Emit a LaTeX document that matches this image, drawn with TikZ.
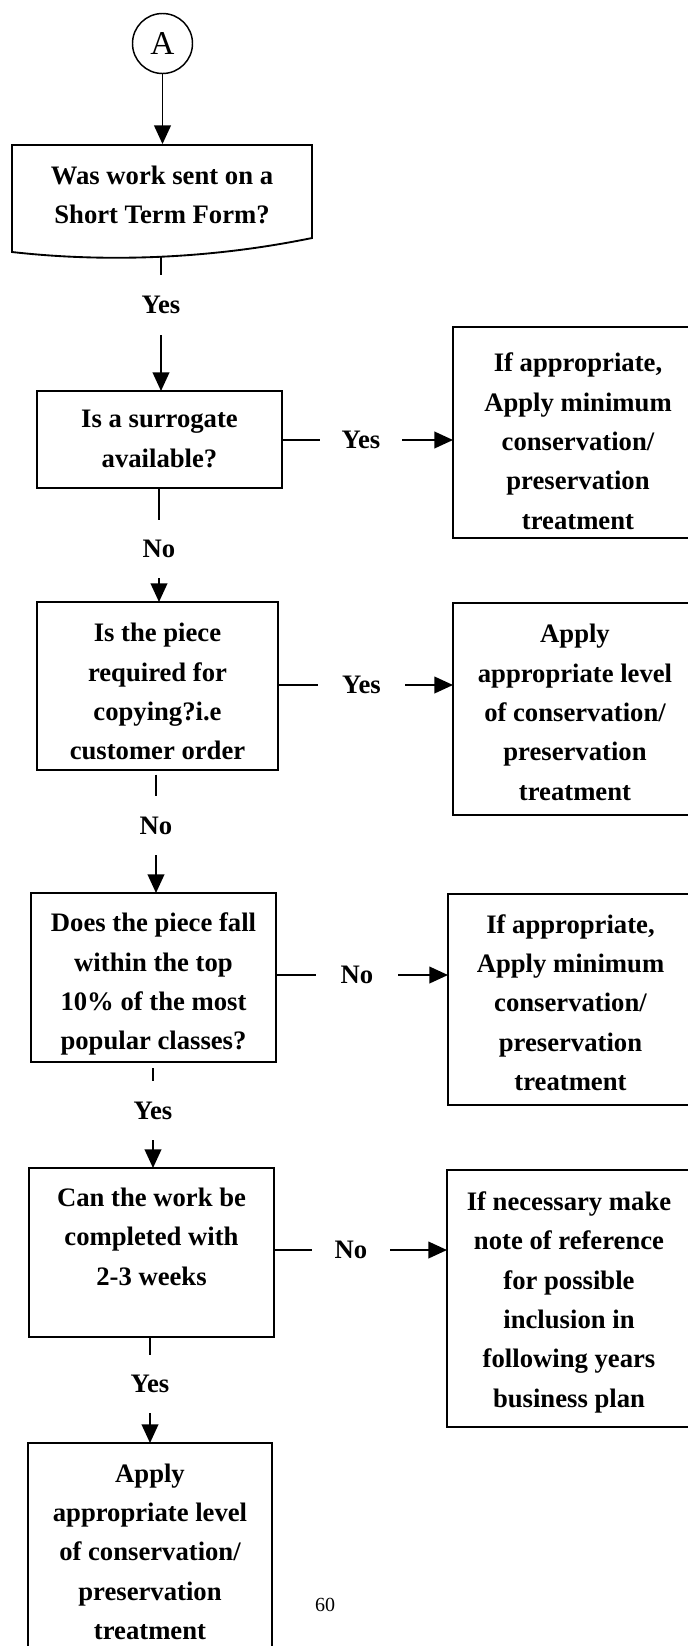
\documentclass[tikz,border=0pt]{standalone}
\usepackage{fontspec}
\setmainfont{Liberation Serif}
\usetikzlibrary{arrows.meta}
\begin{document}
\begin{tikzpicture}[x=0.75pt,y=-0.75pt,line width=1.4pt,
  box/.style={draw,rectangle,inner sep=0pt,outer sep=0pt},
  txt/.style={font=\bfseries\fontsize{20}{29.5}\selectfont,align=center,inner sep=0pt},
  lab/.style={font=\bfseries\fontsize{20}{24}\selectfont,inner sep=0pt,outer sep=0pt},
  arr/.style={-{Triangle[length=14pt,width=12.5pt]}}]
\useasboundingbox (0,0) rectangle (688,1646);
\clip (0,0) rectangle (688,1646);

% start connector
\node[draw,circle,minimum size=45pt,inner sep=0pt,line width=1.1pt,font=\fontsize{25}{30}\selectfont] (a) at (162.5,43.5) {A};

% document-shaped first question
\node[inner sep=0pt,minimum width=225pt,minimum height=82.5pt,
  label={[txt,yshift=3pt]center:{\strut Was work sent on a\\\strut Short Term Form?}}] (q1) at (162,200) {};
\draw (12,145) -- (312,145) -- (312,238) .. controls (205,260) and (100,262) .. (12,252) -- cycle;

% left column
\node[box,minimum width=183.75pt,minimum height=72.75pt,
  label={[txt]center:{\strut Is a surrogate\\\strut available?}}] (q2) at (159.5,439.5) {};
\node[box,minimum width=180.75pt,minimum height=126pt,
  label={[txt,yshift=-5.25pt]center:{\strut Is the piece\\\strut required for\\\strut copying?i.e\\\strut customer order}}] (q3) at (157.5,686) {};
\node[box,minimum width=183.75pt,minimum height=126.75pt,
  label={[txt,yshift=-4.1pt]center:{\strut Does the piece fall\\\strut within the top\\\strut 10\% of the most\\\strut popular classes?}}] (q4) at (153.5,977.5) {};
\node[box,minimum width=183.75pt,minimum height=126.75pt,
  label={[txt,yshift=10.9pt]center:{\strut Can the work be\\\strut completed with\\\strut 2-3 weeks}}] (q5) at (151.5,1252.5) {};
\node[box,minimum width=183pt,minimum height=165pt,
  label={[txt]center:{\strut Apply\\\strut appropriate level\\\strut of conservation/\\\strut preservation\\\strut treatment}}] (q6) at (150,1553) {};

% right column
\node[box,minimum width=187.5pt,minimum height=158.25pt,
  label={[txt,yshift=-7.5pt]center:{\strut If appropriate,\\\strut Apply minimum\\\strut conservation/\\\strut preservation\\\strut treatment}}] (r1) at (578,432.5) {};
\node[box,minimum width=183pt,minimum height=159pt,
  label={[txt,yshift=-3.4pt]center:{\strut Apply\\\strut appropriate level\\\strut of conservation/\\\strut preservation\\\strut treatment}}] (r2) at (575,709) {};
\node[box,minimum width=183.75pt,minimum height=158.25pt,
  label={[txt,yshift=-3.4pt]center:{\strut If appropriate,\\\strut Apply minimum\\\strut conservation/\\\strut preservation\\\strut treatment}}] (r3) at (570.5,999.5) {};
\node[box,minimum width=183pt,minimum height=192.75pt,
  label={[txt,yshift=-1.9pt]center:{\strut If necessary make\\\strut note of reference\\\strut for possible\\\strut inclusion in\\\strut following years\\\strut business plan}}] (r4) at (569,1298.5) {};

% vertical decision labels
\node[lab,minimum height=45pt] (L1) at (161,305) {Yes};
\node[lab,minimum height=43.5pt] (L2) at (159,549) {No};
\node[lab,minimum height=44.25pt] (L3) at (156,825.5) {No};
\node[lab,minimum height=44.25pt] (L4) at (153,1110.5) {Yes};
\node[lab,minimum height=43.5pt] (L5) at (150,1384) {Yes};

% horizontal decision labels
\node[lab,minimum width=61.5pt] (H1) at (361,440) {Yes};
\node[lab,minimum width=65.25pt] (H2) at (361.5,685) {Yes};
\node[lab,minimum width=61.5pt] (H3) at (357,975) {No};
\node[lab,minimum width=58.5pt] (H4) at (351,1250) {No};

% page number
\node[font=\fontsize{15}{18}\selectfont,inner sep=0pt] (pg) at (325,1605) {60};

% vertical connectors
\draw[arr] (a.south) -- (a.south |- q1.north);
\draw (L1 |- q1.south) -- (L1.north);
\draw[arr] (L1.south) -- (L1 |- q2.north);
\draw (L2 |- q2.south) -- (L2.north);
\draw[arr] (L2.south) -- (L2 |- q3.north);
\draw[shorten <=3.5pt] (L3 |- q3.south) -- (L3.north);
\draw[arr] (L3.south) -- (L3 |- q4.north);
\draw[shorten <=4.5pt] (L4 |- q4.south) -- (L4.north);
\draw[arr] (L4.south) -- (L4 |- q5.north);
\draw (L5 |- q5.south) -- (L5.north);
\draw[arr] (L5.south) -- (L5 |- q6.north);

% horizontal connectors
\draw (H1 -| q2.east) -- (H1.west);
\draw[arr] (H1.east) -- (H1 -| r1.west);
\draw (H2 -| q3.east) -- (H2.west);
\draw[arr] (H2.east) -- (H2 -| r2.west);
\draw (H3 -| q4.east) -- (H3.west);
\draw[arr] (H3.east) -- (H3 -| r3.west);
\draw (H4 -| q5.east) -- (H4.west);
\draw[arr] (H4.east) -- (H4 -| r4.west);
\end{tikzpicture}
\end{document}
